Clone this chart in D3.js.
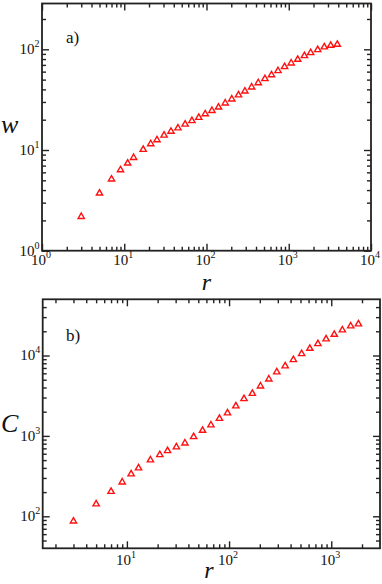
<!DOCTYPE html>
<html><head><meta charset="utf-8">
<script src="https://cdn.jsdelivr.net/npm/d3@7"></script>
<style>body{margin:0;background:#fff}svg{display:block}text{font-family:"Liberation Serif","Times New Roman",Times,serif}</style>
</head><body><svg id="c" width="382" height="584"></svg>
<script>
// ---- data ----
const rValues = [3,5,7,9,11,13,17,21,25,30.5,37,45,55,66.5,80.5,96.5,116.5,140,169,203,245,293,354,426,513,617,740,890,1070,1285,1550,1845,2250,2706,3236,3893];
const wValues = [2.18,3.72,5.13,6.34,7.39,8.40,10.1,11.5,12.6,14.0,15.3,16.5,18.0,19.5,21.0,22.8,24.6,26.6,29.2,32.0,35.1,38.4,42.1,46.4,50.9,55.7,61.1,67.0,72.9,79.2,86.2,92.3,98.9,105.2,109.1,111.6];
const cValues = [87,142,203,266,335,398,500,582,653,726,813,974,1167,1362,1644,1923,2350,2891,3364,4159,5082,6220,7387,8846,10500,12220,13990,16000,18250,20700,23200,24600];
const topXDomain = [1, 1e4], topYDomain = [1, 285];
const botXDomain = [1.5, 3000], botYDomain = [40, 50000];
const topXMajor = [1,10,100,1000,10000], topYMajor = [1,10,100];
const botXMajor = [10,100,1000], botYMajor = [100,1000,10000];
const panelLabels = ["a)", "b)"];
const xTitle = "r", yTitles = ["w", "C"];

const svg = d3.select("#c");
const AX = "#222";

function minorTicks(domain) {
  const out = [];
  const lo = Math.floor(Math.log10(domain[0])), hi = Math.ceil(Math.log10(domain[1]));
  for (let e = lo; e <= hi; e++) for (let k = 2; k <= 9; k++) {
    const v = k * Math.pow(10, e);
    if (v > domain[0] * 1.001 && v < domain[1] * 0.999) out.push(v);
  }
  return out;
}
function sup(sel, v) {
  sel.text("10").append("tspan").attr("dy", -7).style("font-size", "10px").text(Math.round(Math.log10(v)));
}

function panel(cfg) {
  const {x0, x1, y0, y1, xd, yd, xMaj, yMaj, ys, label, ytitle, labelPos, xlabOff, ytPos, xtPos} = cfg;
  const x = d3.scaleLog().domain(xd).range([x0, x1]);
  const y = d3.scaleLog().domain(yd).range([y1, y0]);
  const g = svg.append("g");
  const mk = (axis, tr, vals, size) => {
    const a = g.append("g").attr("transform", tr)
      .call(axis.tickValues(vals).tickSize(-size).tickFormat(""));
    a.select(".domain").remove();
    a.selectAll("line").attr("stroke", AX).attr("stroke-width", 1.4);
  };
  const xm = minorTicks(xd), ym = minorTicks(yd);
  mk(d3.axisBottom(x), `translate(0,${y1})`, xMaj, 7);
  mk(d3.axisBottom(x), `translate(0,${y1})`, xm, 4);
  mk(d3.axisTop(x), `translate(0,${y0})`, xMaj, 7);
  mk(d3.axisTop(x), `translate(0,${y0})`, xm, 4);
  mk(d3.axisLeft(y), `translate(${x0},0)`, yMaj, 7);
  mk(d3.axisLeft(y), `translate(${x0},0)`, ym, 4);
  mk(d3.axisRight(y), `translate(${x1},0)`, yMaj, 7);
  mk(d3.axisRight(y), `translate(${x1},0)`, ym, 4);
  g.append("rect").attr("x", x0).attr("y", y0).attr("width", x1 - x0).attr("height", y1 - y0)
    .attr("fill", "none").attr("stroke", AX).attr("stroke-width", 1.8);
  // tick labels
  xMaj.forEach(v => {
    g.append("text").attr("x", x(v) - 1).attr("y", y1 + xlabOff).attr("text-anchor", "middle")
      .style("font-size", "15px").attr("fill", "#111").call(sup, v);
  });
  yMaj.forEach(v => {
    g.append("text").attr("x", x0 - 2.5).attr("y", y(v) + 5).attr("text-anchor", "end")
      .style("font-size", "15px").attr("fill", "#111").call(sup, v);
  });
  // points
  const sym = d3.symbol().type(d3.symbolTriangle).size(17);
  g.append("g").selectAll("path").data(ys.map((v, i) => [rValues[i], v])).join("path")
    .attr("d", sym).attr("transform", d => `translate(${x(d[0])},${y(d[1])})`)
    .attr("fill", "#fff").attr("stroke", "#ff1010").attr("stroke-width", 1.4);
  // titles
  g.append("text").attr("x", labelPos[0]).attr("y", labelPos[1])
    .style("font-size", "17px").attr("fill", "#111").text(label);
  g.append("text").attr("x", xtPos[0]).attr("y", xtPos[1]).attr("text-anchor", "middle")
    .style("font-style", "italic").style("font-size", "24px").attr("fill", "#111").text(xTitle);
  g.append("text").attr("x", ytPos[0]).attr("y", ytPos[1])
    .style("font-style", "italic").style("font-size", "26px").attr("fill", "#111").text(ytitle);
}

panel({x0: 42, x1: 371, y0: 3.5, y1: 250.7, xd: topXDomain, yd: topYDomain, xMaj: topXMajor, yMaj: topYMajor,
  ys: wValues, label: panelLabels[0], ytitle: yTitles[0], labelPos: [66, 43], xlabOff: 14.5,
  xtPos: [206.5, 290], ytPos: [1, 133]});
panel({x0: 42.7, x1: 380, y0: 299.3, y1: 548.3, xd: botXDomain, yd: botYDomain, xMaj: botXMajor, yMaj: botYMajor,
  ys: cValues, label: panelLabels[1], ytitle: yTitles[1], labelPos: [66, 341], xlabOff: 16.5,
  xtPos: [209, 578], ytPos: [1, 432]});
</script></body></html>
